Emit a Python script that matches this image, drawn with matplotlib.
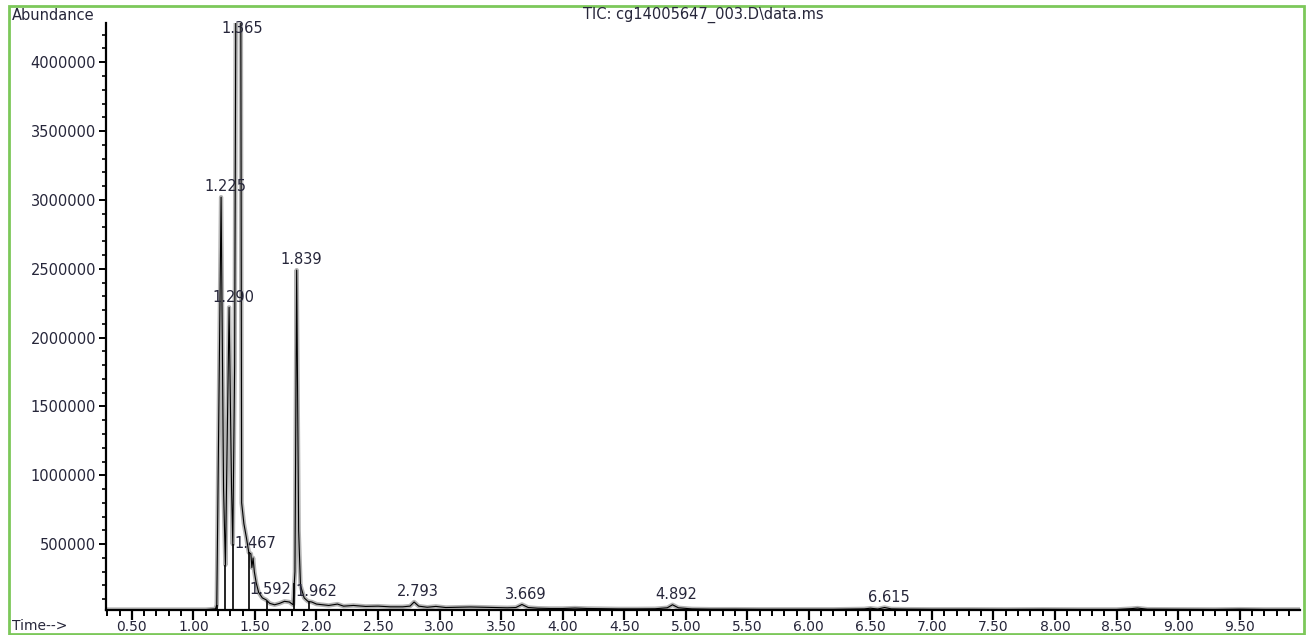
import numpy as np
import matplotlib.pyplot as plt
from matplotlib.patches import Rectangle
from matplotlib.ticker import FixedLocator, MultipleLocator

# retention time (min) and total ion current (thousands of counts)
rt = [0.29, 0.60, 0.90, 1.10, 1.18, 1.19, 1.225, 1.245, 1.26, 1.29, 1.31,
      1.32, 1.335, 1.345, 1.365, 1.385, 1.392, 1.41, 1.43, 1.45, 1.467,
      1.475, 1.485, 1.495, 1.51, 1.53, 1.56, 1.592, 1.62, 1.66, 1.70, 1.74,
      1.78, 1.81, 1.825, 1.839, 1.855, 1.87, 1.90, 1.93, 1.962, 2.00, 2.05,
      2.10, 2.17, 2.22, 2.30, 2.40, 2.50, 2.60, 2.70, 2.76, 2.793, 2.83,
      2.90, 2.97, 3.05, 3.15, 3.25, 3.35, 3.45, 3.55, 3.62, 3.669, 3.72,
      3.80, 3.90, 4.00, 4.10, 4.20, 4.30, 4.45, 4.60, 4.75, 4.85, 4.892,
      4.94, 5.05, 5.20, 5.40, 5.60, 5.80, 6.00, 6.20, 6.45, 6.50, 6.56,
      6.615, 6.67, 6.80, 7.00, 7.30, 7.60, 7.90, 8.20, 8.50, 8.62, 8.67,
      8.75, 9.00, 9.30, 9.50, 9.70, 9.99]
tic_k = [25, 25, 25, 25, 30, 60, 3020, 900, 350, 2220, 900,
         500, 1800, 4500, 4700, 4500, 800, 650, 550, 440, 430,
         330, 400, 300, 220, 150, 110, 95, 70, 60, 70, 85,
         80, 60, 300, 2490, 600, 200, 110, 85, 80, 65, 60,
         55, 65, 50, 55, 48, 50, 45, 45, 50, 80, 50,
         42, 48, 40, 42, 44, 42, 40, 38, 40, 62, 40,
         35, 33, 33, 36, 33, 32, 30, 30, 31, 38, 60,
         38, 30, 28, 28, 27, 27, 27, 27, 30, 35, 29,
         40, 30, 28, 27, 27, 26, 27, 26, 26, 32, 36,
         28, 27, 26, 28, 26, 26]

# labelled peaks
peak_rt = [1.225, 1.290, 1.365, 1.467, 1.592, 1.839, 1.962, 2.793, 3.669,
           4.892, 6.615]
peak_names = ["1.225", "1.290", "1.365", "1.467", "1.592", "1.839", "1.962",
              "2.793", "3.669", "4.892", "6.615"]

# integration drop lines
drop_rt = [1.19, 1.26, 1.32, 1.45, 1.60, 1.82, 1.94]

tic = np.array(tic_k) * 1000.0
y_lo, y_hi = 22000, 4285000
txt = "#26263a"

plt.rcParams["font.family"] = ["DejaVu Sans"]
fig = plt.figure(figsize=(13.07, 6.35), dpi=100)
ax = fig.add_axes([106 / 1307, 1 - 610 / 635, 1194 / 1307, 587 / 635])

ax.plot(rt, tic, color="#b4b4b4", lw=3.2, zorder=2)
ax.plot(rt, tic, color="black", lw=0.8, zorder=3)

drop_top = np.interp(drop_rt, rt, tic)
ax.vlines(drop_rt, y_lo, drop_top, color="black", lw=1.2, zorder=3)

for t, name in zip(peak_rt, peak_names):
    h = min(np.interp(t, rt, tic), 4170000)
    ax.annotate(name, (t, h), xytext=(3, 2), textcoords="offset points",
                ha="center", va="bottom", fontsize=10.5, color=txt, zorder=4)

ax.set_xlim(0.29, 9.99)
ax.set_ylim(y_lo, y_hi)

for s in ("top", "right"):
    ax.spines[s].set_visible(False)
for s in ("left", "bottom"):
    ax.spines[s].set_linewidth(1.6)

ax.xaxis.set_minor_locator(MultipleLocator(0.1))
ax.set_xticks(np.arange(0.5, 9.6, 0.5))
ax.set_xticklabels([f"{v:.2f}" for v in np.arange(0.5, 9.6, 0.5)])
ax.yaxis.set_major_locator(FixedLocator(np.arange(500000, 4000001, 500000)))
ax.yaxis.set_minor_locator(FixedLocator(np.arange(100000, 4200001, 100000)))
ax.set_yticklabels([str(v) for v in range(500000, 4000001, 500000)])

ax.tick_params(axis="x", which="major", length=7, width=1.6, pad=0.5,
               labelsize=10, labelcolor=txt)
ax.tick_params(axis="x", which="minor", length=4, width=1.4)
ax.tick_params(axis="y", which="major", length=5, width=1.4, pad=2,
               labelsize=10.5, labelcolor=txt)
ax.tick_params(axis="y", which="minor", length=3, width=1.2)

fig.text(12 / 1307, 1 - 15 / 635, "Abundance", fontsize=10.5, color=txt,
         va="center", ha="left")
fig.text(12 / 1307, 1 - 626 / 635, "Time-->", fontsize=10, color=txt,
         va="center", ha="left")
fig.text(703 / 1307, 1 - 15 / 635, r"TIC: cg14005647_003.D\data.ms",
         fontsize=10.5, color=txt, va="center", ha="center")

fig.patches.append(Rectangle((9 / 1307, 1.5 / 635), 1295 / 1307, 627.5 / 635,
                             transform=fig.transFigure, fill=False,
                             edgecolor="#7cc85a", lw=2))

fig.savefig("out.png", dpi=100)
